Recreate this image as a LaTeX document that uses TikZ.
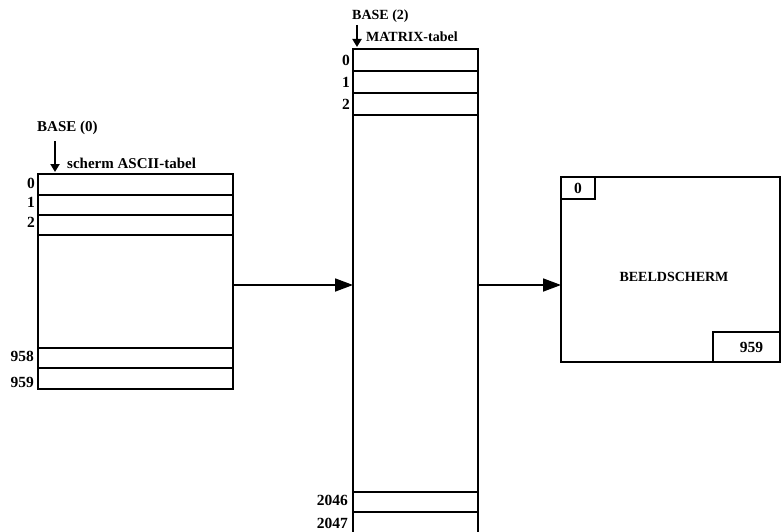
\documentclass[tikz,border=0pt]{standalone}
\usepackage{fontspec}
\setmainfont{Liberation Serif}
\usetikzlibrary{arrows.meta}
\begin{document}
\begin{tikzpicture}[x=1pt,y=-1pt,
  box/.style={draw,line width=1.6pt,inner sep=0pt,outer sep=0pt},
  rowline/.style={line width=1.6pt},
  lbl/.style={font=\bfseries\fontsize{15}{17}\selectfont,inner sep=0pt},
  mlbl/.style={font=\bfseries\fontsize{14}{16}\selectfont,inner sep=0pt},
  num/.style={font=\bfseries\fontsize{15.5}{17}\selectfont,inner sep=0pt},
  conn/.style={line width=1.8pt,-{Triangle[length=18pt,width=13pt]}},
  ptr/.style={line width=2.5pt,-{Triangle[length=8pt,width=9pt]}}]
\useasboundingbox (0,0) rectangle (781,532);
\clip (0,0) rectangle (781,532);
% left table
\node[box,minimum width=195pt,minimum height=215pt,anchor=north west] (ascii) at (38,174) {};
\draw[rowline] (38,195) -- (233,195);
\draw[rowline] (38,215) -- (233,215);
\draw[rowline] (38,235) -- (233,235);
\draw[rowline] (38,348) -- (233,348);
\draw[rowline] (38,368) -- (233,368);
\node[num,anchor=east] (a0) at (35,183) {0};
\node[num,anchor=east] (a1) at (35,202) {1};
\node[num,anchor=east] (a2) at (35,222) {2};
\node[num,anchor=east] (a958) at (34,356) {958};
\node[num,anchor=east] (a959) at (34,382) {959};
\node[lbl,anchor=west] (base0) at (37,128) {BASE (0)};
\node[lbl,anchor=base west] (asciititle) at (67,168) {scherm ASCII-tabel};
\coordinate (p0s) at (55,141);
\coordinate (p0e) at (55,172);
\draw[ptr] (p0s) -- (p0e);
% middle table
\node[box,minimum width=125pt,minimum height=520pt,anchor=north west] (matrix) at (353,49) {};
\draw[rowline] (353,71) -- (478,71);
\draw[rowline] (353,93) -- (478,93);
\draw[rowline] (353,115) -- (478,115);
\draw[rowline] (353,492) -- (478,492);
\draw[rowline] (353,512) -- (478,512);
\node[num,anchor=east] (m0) at (350,60) {0};
\node[num,anchor=east] (m1) at (350,82) {1};
\node[num,anchor=east] (m2) at (350,104) {2};
\node[num,anchor=east] (m2046) at (348,500) {2046};
\node[num,anchor=east] (m2047) at (348,523) {2047};
\node[mlbl,anchor=west] (base2) at (352,16) {BASE (2)};
\node[mlbl,anchor=base west] (matrixtitle) at (366,42) {MATRIX-tabel};
\coordinate (p2s) at (357,25);
\coordinate (p2e) at (357,47);
\draw[ptr] (p2s) -- (p2e);
% screen
\node[box,minimum width=219pt,minimum height=185pt,anchor=north west] (screen) at (561,177) {};
\node[box,minimum width=34pt,minimum height=22pt,anchor=north west,num] (s0) at (561,177) {0};
\node[box,minimum width=67pt,minimum height=30pt,anchor=south east,num] (s959) at (780,362) {\hspace*{10pt}959};
\node[font=\bfseries\fontsize{14}{16}\selectfont,inner sep=0pt] (screentitle) at (674,277) {BEELDSCHERM};
% connectors
\coordinate (c1s) at (233,285);
\coordinate (c1e) at (353,285);
\coordinate (c2s) at (478,285);
\coordinate (c2e) at (561,285);
\draw[conn] (c1s) -- (c1e);
\draw[conn] (c2s) -- (c2e);
\end{tikzpicture}
\end{document}
